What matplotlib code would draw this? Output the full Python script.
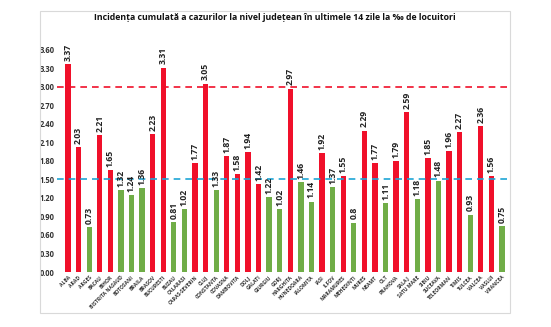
import matplotlib
matplotlib.use("Agg")
import matplotlib.pyplot as plt
from matplotlib.patches import Rectangle

counties = ["ALBA", "ARAD", "ARGES", "BACAU", "BIHOR", "BISTRITA NASAUD", "BOTOSANI",
            "BRAILA", "BRASOV", "BUCURESTI", "BUZAU", "CALARASI", "CARAS-SEVERIN", "CLUJ",
            "CONSTANTA", "COVASNA", "DAMBOVITA", "DOLJ", "GALATI", "GIURGIU", "GORJ",
            "HARGHITA", "HUNEDOARA", "IALOMITA", "IASI", "ILFOV", "MARAMURES", "MEHEDINTI",
            "MURES", "NEAMT", "OLT", "PRAHOVA", "SALAJ", "SATU MARE", "SIBIU", "SUCEAVA",
            "TELEORMAN", "TIMIS", "TULCEA", "VALCEA", "VASLUI", "VRANCEA"]
values = [3.37, 2.03, 0.73, 2.21, 1.65, 1.32, 1.24, 1.36, 2.23, 3.31, 0.81, 1.02, 1.77,
          3.05, 1.33, 1.87, 1.58, 1.94, 1.42, 1.22, 1.02, 2.97, 1.46, 1.14, 1.92, 1.37,
          1.55, 0.8, 2.29, 1.77, 1.11, 1.79, 2.59, 1.18, 1.85, 1.48, 1.96, 2.27, 0.93,
          2.36, 1.56, 0.75]
value_labels = ["3.37", "2.03", "0.73", "2.21", "1.65", "1.32", "1.24", "1.36", "2.23",
                "3.31", "0.81", "1.02", "1.77", "3.05", "1.33", "1.87", "1.58", "1.94",
                "1.42", "1.22", "1.02", "2.97", "1.46", "1.14", "1.92", "1.37", "1.55",
                "0.8", "2.29", "1.77", "1.11", "1.79", "2.59", "1.18", "1.85", "1.48",
                "1.96", "2.27", "0.93", "2.36", "1.56", "0.75"]
groups = ["r", "r", "g", "r", "r", "g", "g", "g", "r", "r", "g", "g", "r", "r", "g", "r",
          "r", "r", "r", "g", "g", "r", "g", "g", "r", "g", "r", "g", "r", "r", "g", "r",
          "r", "g", "r", "g", "r", "r", "g", "r", "r", "g"]
thresholds = [3.0, 1.5]
yticks = [0.0, 0.3, 0.6, 0.9, 1.2, 1.5, 1.8, 2.1, 2.4, 2.7, 3.0, 3.3, 3.6]
title = "Incidența cumulată a cazurilor la nivel județean în ultimele 14 zile la ‰ de locuitori"

RED = "#F0102A"
GREEN = "#70AD47"
palette = {"r": RED, "g": GREEN}

W, H = 551, 327
fig = plt.figure(figsize=(W / 100, H / 100), dpi=100)
plt.rcParams["font.family"] = ["Open Sans", "DejaVu Sans"]

# chart frame
fig.patches.append(Rectangle((40 / W, 1 - 313 / H), 470 / W, 302 / H,
                             transform=fig.transFigure, fill=False,
                             edgecolor="#D9D9D9", linewidth=0.8))

ax = fig.add_axes([57 / W, 1 - 272 / H, 453 / W, (272 - 49.6) / H])
x = list(range(len(counties)))
ax.bar(x, values, width=0.5, color=[palette[g] for g in groups], zorder=2)

ax.axhline(thresholds[0], color="#F0102A", linestyle=(0, (4, 3)), linewidth=1.2, zorder=3)
ax.axhline(thresholds[1], color="#1EA5D6", linestyle=(0, (4, 3)), linewidth=1.2, zorder=3)

for xi, v, lab in zip(x, values, value_labels):
    ax.text(xi, v + 0.05, lab, rotation=90, ha="center", va="bottom",
            fontsize=6.2, fontweight="bold", color="#222222", clip_on=False, zorder=4)

ax.set_xlim(-1.04, 41.76)
ax.set_ylim(0, 3.6)
ax.set_yticks(yticks)
ax.set_yticklabels([f"{t:.2f}" for t in yticks], fontsize=5.5, fontweight="bold", color="#333333")
ax.set_xticks(x)
ax.set_xticklabels(counties, rotation=45, ha="right", rotation_mode="anchor",
                   fontsize=3.6, fontweight="bold", color="#333333")
ax.tick_params(axis="both", length=0, pad=2)
for s in ax.spines.values():
    s.set_visible(False)

fig.text(275 / W, 1 - 17 / H, title, ha="center", va="center",
         fontsize=6.3, fontweight="bold", color="#111111")

fig.savefig("out.png", dpi=100)
